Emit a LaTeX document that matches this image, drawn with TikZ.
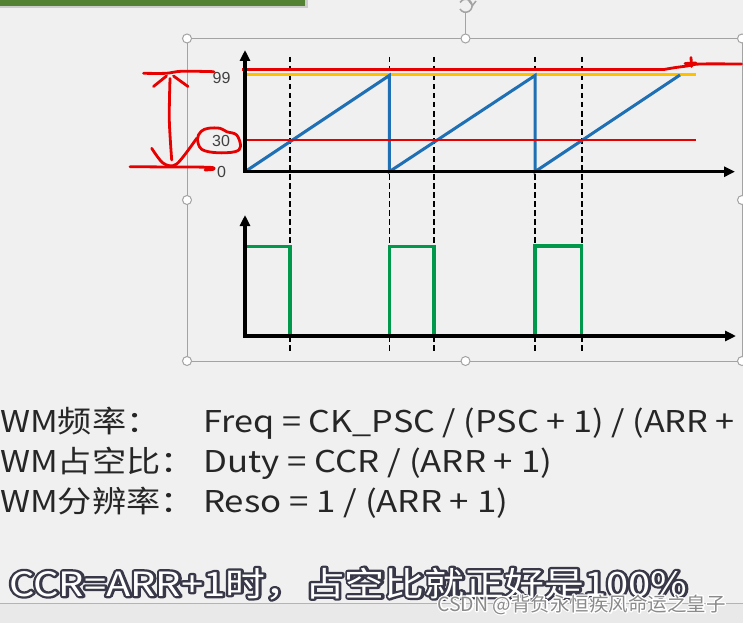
\documentclass[tikz,border=0pt]{standalone}
\usepackage{fontspec}
\usepackage{graphicx}
\setmainfont{Noto Sans CJK SC}
\newfontfamily\tickfont{Liberation Sans}
\usetikzlibrary{arrows.meta}
\definecolor{bgGray}{HTML}{F0F0F0}
\definecolor{slideGray}{HTML}{E9E9E9}
\definecolor{sepGray}{HTML}{B4B4B4}
\definecolor{frameGray}{HTML}{A3A3A3}
\definecolor{barGreen}{HTML}{548235}
\definecolor{sawBlue}{HTML}{1F6FB4}
\definecolor{cmpRed}{HTML}{E60000}
\definecolor{arrOrange}{HTML}{FFC000}
\definecolor{pwmGreen}{HTML}{00994C}
\definecolor{txtDark}{HTML}{262626}
\definecolor{tickGray}{HTML}{404040}
\definecolor{ringDark}{HTML}{383848}
\definecolor{markGray}{HTML}{8A8A8A}

% text with a coloured rim: #1 fill, #2 rim, #3 rim width
\newcommand\rimtext[4]{\rlap{\special{pdf:literal direct 1 j 2 Tr #3 w}\textcolor{#2}{#4}\special{pdf:literal direct 0 Tr}}\textcolor{#1}{#4}}

\tikzset{
  axisLine/.style={draw=black,line width=3.2pt,-{Triangle[length=11pt,width=10pt]}},
  dashMark/.style={draw=black,line width=1.6pt,dash pattern=on 5.5pt off 3.5pt},
  sawLine/.style={draw=sawBlue,line width=3pt,line join=miter},
  cmpLine/.style={draw=cmpRed,line width=2.8pt},
  arrLine/.style={draw=arrOrange,line width=3.2pt},
  pwmLine/.style={draw=pwmGreen,line width=3.2pt,line join=miter},
  handRed/.style={draw=cmpRed,line width=2.8pt,line cap=round,line join=round},
  frameLine/.style={draw=frameGray,line width=1pt},
  handleDot/.style={circle,draw=frameGray,fill=white,line width=1pt,minimum size=9pt,inner sep=0pt},
  tickText/.style={font=\tickfont\fontsize{16}{16}\selectfont,text=tickGray,inner sep=0pt},
  fmlText/.style={font=\fontsize{30}{36}\selectfont,text=txtDark,inner sep=0pt,anchor=base west},
  capText/.style={font=\fontsize{33.5}{40}\selectfont,inner sep=0pt,anchor=base west},
  markText/.style={font=\fontsize{19.5}{24}\selectfont,inner sep=0pt,anchor=base west}
}

\begin{document}
\begin{tikzpicture}[x=1pt,y=-1pt]
  % page
  \fill[bgGray] (0,0) rectangle (743,623);
  \useasboundingbox (0,0) rectangle (743,623);
  \fill[slideGray] (0,603.5) rectangle (743,623);
  \draw[sepGray,line width=0.8pt] (0,603.5) -- (743,603.5);
  \fill[black!20] (0,0) rectangle (307.5,8.5);
  \fill[barGreen] (0,0) rectangle (305,6);

  % selection frame
  \draw[frameLine] (187,38.5) rectangle (742,361);
  \draw[frameLine] (465.5,13) -- (465.5,38.5);
  \draw[frameGray,line width=1.5pt] (460,9) arc[start angle=150,end angle=-150,radius=6.5];
  \draw[frameGray,line width=1.5pt] (469,1) -- (472.5,5.5) -- (476,1);

  % dashed edges
  \foreach \xm in {290,389.3,434,535,581.7}
    \draw[dashMark] (\xm,57) -- (\xm,353);

  % counter
  \draw[arrLine] (245,74.3) -- (696,74.3);
  \draw[sawLine] (245,171.7) -- (389.3,75.5) -- (389.3,171.7) -- (535,75.5) -- (535,171.7) -- (680,75);
  \draw[cmpLine] (242,69.3) -- (665,69.3);
  \draw[cmpLine] (244,140) -- (696,140);
  \draw[axisLine] (243.4,171.7) -- (735,171.7);
  \draw[axisLine] (245,171.7) -- (245,50);
  \node[tickText] (tick99) at (221.5,77.5) {99};
  \node[tickText] (tick30) at (221,141) {30};
  \node[tickText] (tick0) at (221.5,171.5) {0};

  % output
  \draw[pwmLine] (245,246.5) -- (290,246.5) -- (290,336) -- (389.3,336) -- (389.3,246.5) -- (434,246.5)
    -- (434,336) -- (535,336) -- (535,246) -- (581.7,246) -- (581.7,336) -- (682.7,336);
  \draw[axisLine] (243.4,336) -- (736,336);
  \draw[axisLine] (245,336) -- (245,215);

  % handwriting
  \draw[handRed] plot[smooth,tension=0.5] coordinates {(665,69.3) (675,67.6) (687,66) (700,64) (741.5,64)};
  \draw[handRed] (691,57.5) -- (691.5,66.5);
  \draw[handRed] (685,63.5) -- (696,63);
  \draw[handRed] plot[smooth,tension=0.5] coordinates {(143.5,73.3) (166,73.3) (182,71.2) (214,71.7)};
  \draw[handRed] (153.5,86.5) -- (166.5,76);
  \draw[handRed] (173.5,76) -- (188,86.5);
  \draw[handRed] plot[smooth,tension=0.5] coordinates {(170,78.5) (169.3,120) (171.7,160)};
  \draw[handRed] plot[smooth,tension=0.5] coordinates {(151.7,148.3) (163.3,163.3) (176.7,164) (196.7,138.3)};
  \draw[handRed] plot[smooth cycle,tension=0.6] coordinates {(197.5,139) (201,131.5) (208.3,128.3) (220,128.3)
    (226.7,131.7) (236.7,135) (240.5,146.5) (235,151.7) (216.7,152.7) (201.7,149.3)};
  \draw[handRed] plot[smooth,tension=0.5] coordinates {(130,166.7) (170,167) (210,167.3) (213.3,169.3) (205,170)};

  % formulas
  \node[fmlText] (freqLbl) at (0,432) {\scalebox{1.14}[1]{WM频率：}};
  \node[fmlText] (freqEq) at (203,432) {\scalebox{1.14}[1]{Freq = CK\_PSC / (PSC + 1) / (ARR +}};
  \node[fmlText] (dutyLbl) at (0,472) {\scalebox{1.14}[1]{WM占空比：}};
  \node[fmlText] (dutyEq) at (203,472) {\scalebox{1.16}[1]{Duty = CCR / (ARR + 1)}};
  \node[fmlText] (resoLbl) at (0,512) {\scalebox{1.14}[1]{WM分辨率：}};
  \node[fmlText] (resoEq) at (203,512) {\scalebox{1.16}[1]{Reso = 1 / (ARR + 1)}};

  % caption and mark
  \node[capText] (capMain) at (9,596) {\scalebox{1.19}[1]{\rimtext{white}{ringDark}{4.5}{CCR=ARR+1时，占空比就正好是100\%}}};
  \node[markText] (markMain) at (437,611) {\rimtext{markGray}{white}{2.5}{CSDN @背负永恒疾风命运之皇子}};

  % handles
  \foreach \hx/\hy [count=\hn] in {187/38.5,465.5/38.5,742/38.5,187/200,742/200,187/361,465.5/361,742/361}
    \node[handleDot] (hdl\hn) at (\hx,\hy) {};
\end{tikzpicture}
\end{document}
